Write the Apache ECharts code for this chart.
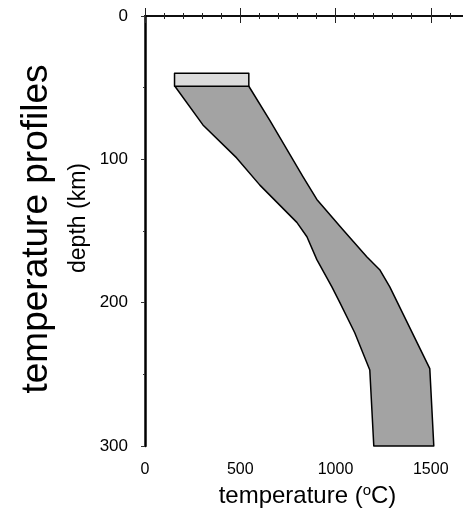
<!DOCTYPE html>
<html>
<head>
<meta charset="utf-8">
<script src="https://cdn.jsdelivr.net/npm/echarts@6/dist/echarts.min.js"></script>
<style>
  html, body { margin: 0; padding: 0; background: #fff; }
  #chart { width: 463px; height: 510px; }
</style>
</head>
<body>
<div id="chart"></div>
<script>
// ---- data (temperature in °C, depth in km) ----
var boxTemp  = [155, 545];
var boxDepth = [40, 49];

var leftTemp  = [157, 304, 481, 603, 797, 850, 902, 981, 1023, 1101, 1180, 1201];
var leftDepth = [49, 76, 99, 118, 144, 154, 170, 189, 200, 221, 247, 300];

var rightTemp  = [545, 656, 829, 902, 1038, 1164, 1232, 1285, 1495, 1516];
var rightDepth = [49, 73, 112, 128, 149, 168, 177, 189, 246, 300];

var xTickLabels = ['0', '500', '1000', '1500'];
var yTickLabels = ['0', '100', '200', '300'];

// ---- build polygons ----
var bandPoints = [];
for (var i = 0; i < leftTemp.length; i++) bandPoints.push([leftTemp[i], leftDepth[i]]);
for (var j = rightTemp.length - 1; j >= 0; j--) bandPoints.push([rightTemp[j], rightDepth[j]]);

var boxPoints = [
  [boxTemp[0], boxDepth[0]], [boxTemp[1], boxDepth[0]],
  [boxTemp[1], boxDepth[1]], [boxTemp[0], boxDepth[1]]
];

function polySeries(points, fill) {
  return {
    type: 'custom',
    coordinateSystem: 'cartesian2d',
    xAxisIndex: 0, yAxisIndex: 0,
    data: points,
    silent: true,
    clip: false,
    renderItem: function (params, api) {
      if (params.dataIndex !== 0) return null;
      var pts = points.map(function (p) { return api.coord(p); });
      return {
        type: 'polygon',
        shape: { points: pts },
        style: { fill: fill, stroke: '#000', lineWidth: 1.5, lineJoin: 'round' }
      };
    }
  };
}

var FONT = '"Liberation Sans", Arial, Helvetica, sans-serif';

var chart = echarts.init(document.getElementById('chart'), null, { renderer: 'canvas' });
chart.setOption({
  animation: false,
  backgroundColor: '#fff',
  grid: { left: 145, top: 16, right: -63, bottom: 64, containLabel: false, outerBoundsMode: 'none' },
  xAxis: [{
    type: 'value', position: 'bottom', min: 0, max: 2000, interval: 500,
    axisLine: { show: true, lineStyle: { color: '#000', width: 1.5 } },
    axisTick: { show: true, inside: false, length: 7, lineStyle: { color: '#222', width: 1 } },
    minorTick: { show: true, splitNumber: 5, length: 3, lineStyle: { color: '#222', width: 1 } },
    splitLine: { show: false },
    axisLabel: {
      show: true, margin: 16, fontSize: 16, color: '#000', fontFamily: FONT,
      formatter: function (v) { var s = String(v); return xTickLabels.indexOf(s) >= 0 ? s : ''; }
    },
    name: 'temperature ({sup|o}C)',
    nameLocation: 'middle', nameGap: 34,
    nameTextStyle: {
      fontSize: 24, color: '#000', fontFamily: FONT,
      padding: [0, 56, 0, 0],
      rich: { sup: { fontSize: 15, verticalAlign: 'top', padding: [0, 0, 11, 0], color: '#000', fontFamily: FONT } }
    }
  }, {
    type: 'value', position: 'top', min: 0, max: 2000, interval: 500,
    axisLine: { show: true, lineStyle: { color: '#000', width: 1.5 } },
    axisTick: { show: true, inside: false, length: 8, lineStyle: { color: '#222', width: 1 } },
    minorTick: { show: true, splitNumber: 5, length: 3, lineStyle: { color: '#222', width: 1 } },
    splitLine: { show: false },
    axisLabel: { show: false }
  }],
  yAxis: [{
    type: 'value', inverse: true, min: 0, max: 300, interval: 100,
    axisLine: { show: true, lineStyle: { color: '#000', width: 2.5 } },
    axisTick: { show: true, inside: false, length: 4, lineStyle: { color: '#333', width: 1 } },
    minorTick: { show: true, splitNumber: 2, length: 2, lineStyle: { color: '#333', width: 1 } },
    splitLine: { show: false },
    axisLabel: {
      show: true, margin: 17, fontSize: 17, color: '#000', fontFamily: FONT,
      formatter: function (v) { var s = String(v); return yTickLabels.indexOf(s) >= 0 ? s : ''; }
    }
  }],
  graphic: [{
    type: 'text', x: 37, y: 229, rotation: Math.PI / 2,
    style: { text: 'temperature profiles', x: 0, y: 0, fill: '#000',
             font: '37px ' + FONT, align: 'center', verticalAlign: 'middle' }
  }, {
    type: 'text', x: 79, y: 218, rotation: Math.PI / 2,
    style: { text: 'depth (km)', x: 0, y: 0, fill: '#000',
             font: '23px ' + FONT, align: 'center', verticalAlign: 'middle' }
  }],
  series: [
    polySeries(bandPoints, '#a3a3a3'),
    polySeries(boxPoints, '#dcdcdc')
  ]
});
</script>
</body>
</html>
